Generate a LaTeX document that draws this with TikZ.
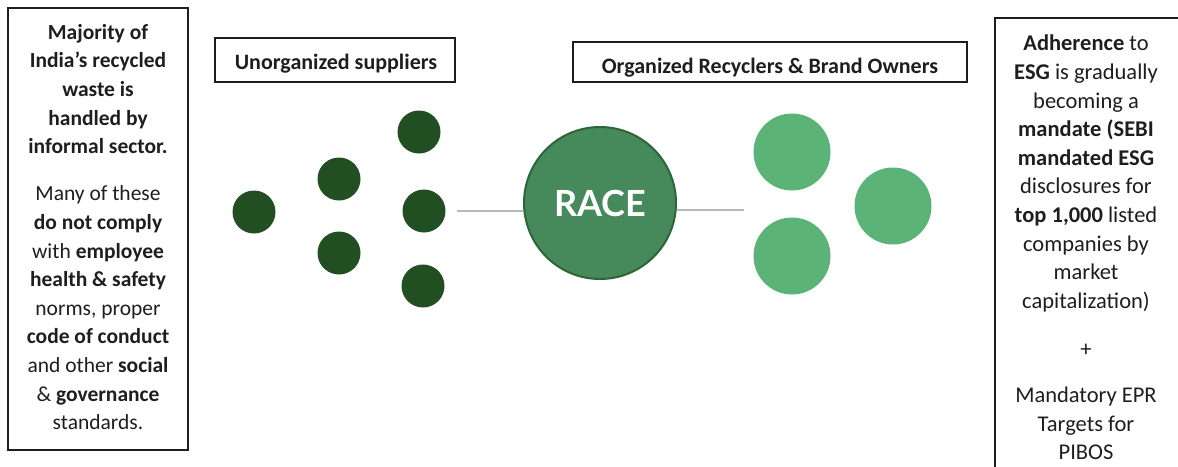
\documentclass[tikz,border=0pt]{standalone}
\usepackage{fontspec}
\setmainfont{Carlito}
\newfontfamily\racefont{Lato}
\definecolor{darkg}{HTML}{224F22}
\definecolor{raceg}{HTML}{46895B}
\definecolor{raceb}{HTML}{2C6638}
\definecolor{lightg}{HTML}{5BB377}
\definecolor{txt}{HTML}{1E1E1E}
\definecolor{linegray}{HTML}{B8B8B8}
\begin{document}
\begin{tikzpicture}[x=1pt,y=-1pt,
  frame/.style={draw=txt, line width=1.8pt},
  head/.style={frame, inner sep=0pt},
  headtext/.style={text=txt, font=\fontsize{22}{26}\selectfont\bfseries, anchor=base, inner sep=0pt},
  para/.style={align=center, inner sep=0pt, text=txt, font=\fontsize{21.5}{28.6}\selectfont},
  parar/.style={para, font=\fontsize{22.5}{28.6}\selectfont},
  small/.style={circle, fill=darkg, minimum size=43pt, inner sep=0pt},
  big/.style={circle, fill=lightg, minimum size=77pt, inner sep=0pt},
  link/.style={draw=linegray, line width=2pt}]
\useasboundingbox (0,0) rectangle (1178,466);
% left box
\node[frame, minimum width=180pt, minimum height=442pt, inner sep=0pt] (lbox) at (98,229) {};
\node[para] (lt1) at (98,89) {\bfseries Majority of\\ \bfseries India’s recycled\\ \bfseries waste is\\ \bfseries handled by\\ \bfseries informal sector.};
\node[para] (lt2) at (98,308) {Many of these\\ \textbf{do not comply}\\ with \textbf{employee}\\ \textbf{health \& safety}\\ norms, proper\\ \textbf{code of conduct}\\ and other \textbf{social}\\ \& \textbf{governance}\\ standards.};
% right box (open at right and bottom)
\coordinate (rb1) at (995,470);
\coordinate (rb2) at (995,18);
\coordinate (rb3) at (1180,18);
\draw[frame] (rb1) -- (rb2) -- (rb3);
\node[parar] (rt1) at (1086,173.5) {\textbf{Adherence} to\\ \textbf{ESG} is gradually\\ becoming a\\ \textbf{mandate (SEBI}\\ \textbf{mandated ESG}\\ disclosures for\\ \textbf{top 1,000} listed\\ companies by\\ market\\ capitalization)};
\node[parar] (rt2) at (1086,350) {+};
\node[parar] (rt3) at (1086,423.5) {Mandatory EPR\\ Targets for\\ PIBOS};
% headers
\node[head, minimum width=240pt, minimum height=44pt] (unorg) at (335,60) {};
\node[headtext] (unorgt) at (336,69) {Unorganized suppliers};
\node[head, minimum width=394pt, minimum height=40pt] (org) at (770,62) {};
\node[headtext] (orgt) at (770,73) {Organized Recyclers \& Brand Owners};
% small dark circles
\node[small] (u1) at (254,212) {};
\node[small] (u2) at (339,179) {};
\node[small] (u3) at (339,253) {};
\node[small] (u4) at (419,132) {};
\node[small] (u5) at (424,211) {};
\node[small] (u6) at (423,286) {};
% RACE
\node[circle, fill=raceg, draw=raceb, line width=2pt, minimum size=152pt, inner sep=0pt,
      text=white, font=\racefont\fontsize{36}{40}\selectfont\bfseries] (race) at (600,203) {RACE};
% light circles
\node[big] (o1) at (792,152) {};
\node[big] (o2) at (893,206) {};
\node[big] (o3) at (792,256) {};
% links
\coordinate (lend) at (457,211);
\coordinate (rend) at (744,210);
\draw[link] (lend) -- (race.west |- lend);
\draw[link] (race.east |- rend) -- (rend);
\end{tikzpicture}
\end{document}
